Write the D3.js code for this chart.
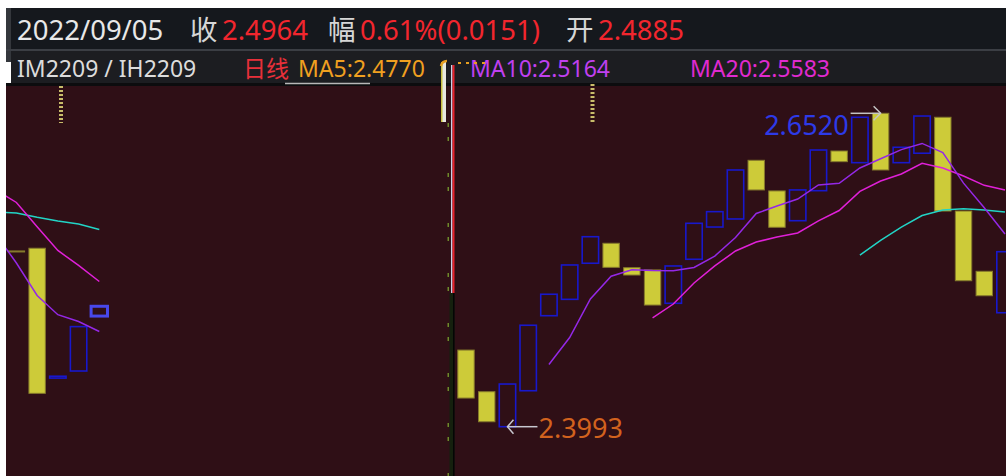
<!DOCTYPE html>
<html><head><meta charset="utf-8">
<script src="https://cdn.jsdelivr.net/npm/d3@7/dist/d3.min.js"></script>
<style>html,body{margin:0;padding:0;background:#fff;overflow:hidden}svg{display:block}</style>
</head><body><svg id="c" width="1006" height="476"></svg>
<script>
// ---- data ----
const opens  = [2.4611,2.4275,2.3993,2.4283,2.4888,2.5020,2.5311,2.5472,2.5275,2.5257,
                2.4988,2.5343,2.5603,2.5668,2.6141,2.5894,2.5654,2.5896,2.6216,2.6122,
                2.6520,2.6122,2.6198,2.6488,2.5732,2.5246,2.4912,2.5410,2.5432,2.4385,
                2.4442,2.4885];
const closes = [2.4224,2.4033,2.4337,2.4811,2.5061,2.5297,2.5525,2.5278,2.5216,2.4974,
                2.5289,2.5633,2.5727,2.6063,2.5902,2.5601,2.5902,2.6224,2.6130,2.6488,
                2.6063,2.6246,2.6498,2.5732,2.5170,2.5049,2.5404,2.5402,2.4262,2.4400,
                2.4800,2.4964];
const ma5  = [null,null,null,null,2.4495,2.4712,2.5023,2.5206,2.5259,2.5253,
              2.5251,2.5277,2.5369,2.5519,2.5712,2.5773,2.5829,2.5942,2.5956,2.6079,
              2.6154,2.6227,2.6277,2.6204,2.5957,2.5758,2.5547,2.5313,2.5051,2.4896,
              2.4841,2.4761];
const ma10 = [null,null,null,null,null,null,null,null,null,2.4870,
              2.4982,2.5152,2.5289,2.5410,2.5482,2.5523,2.5555,2.5652,2.5736,2.5890,
              2.5974,2.6031,2.6117,2.6079,2.6014,2.5939,2.5902,2.5801,2.5605,2.5414,
              2.5293,2.5164];
const ma20 = [null,null,null,null,null,null,null,null,null,null,
              null,null,null,null,null,null,null,null,null,2.5377,
              2.5496,2.5602,2.5696,2.5740,2.5751,2.5740,2.5724,2.5716,2.5682,2.5652,
              2.5627,2.5583];
const highValue = 2.6520, highIndex = 20;
const lowValue = 2.3993, lowIndex = 2;
const selectedIndex = 31;
const rightIdx = d3.range(0, 27);      // shown in the right part
const leftIdx = d3.range(26, 32);      // shown in the left part (wrapped)
const headerItems = [
  {t:"2022/09/05", c:"#e8e8e8"}, {t:"收", c:"#d6d6d6"}, {t:"2.4964", c:"#f2262e"},
  {t:"幅", c:"#d6d6d6"}, {t:"0.61%(0.0151)", c:"#f2262e"}, {t:"开", c:"#d6d6d6"},
  {t:"2.4885", c:"#f2262e"}
];
const headerX = [17, 190, 222, 328, 360, 566, 598];
const legendItems = [
  {t:"IM2209 / IH2209", c:"#dcdcdc"}, {t:"日线", c:"#e8303a"}, {t:"MA5:2.4770", c:"#f0a020"},
  {t:"MA10:2.5164", c:"#c040f0"}, {t:"MA20:2.5583", c:"#e02ad0"}
];
const legendX = [17, 243, 298, 470, 690];

// ---- layout ----
const svg = d3.select("#c");
const W = 1006, H = 476;
const chartTop = 86;
const y = d3.scaleLinear().domain([lowValue, highValue]).range([426.7, 113.3]);
const xR = d3.scaleLinear().domain([0, 26]).range([466, 1005]);
const xL = d3.scaleLinear().domain([27, 31]).range([16.4, 99.3]);
const bw = 16.4;
const font = "'Noto Sans','Noto Sans CJK SC',sans-serif";

svg.append("rect").attr("width", W).attr("height", H).attr("fill", "#ffffff");
svg.append("rect").attr("x", 6).attr("y", 8).attr("width", W-6).attr("height", 41).attr("fill", "#15181d");
svg.append("rect").attr("x", 6).attr("y", 8).attr("width", 5).attr("height", 54).attr("fill", "#34373c");
svg.append("rect").attr("x", 6).attr("y", 49).attr("width", W-6).attr("height", 2).attr("fill", "#3b3e44");
svg.append("rect").attr("x", 11).attr("y", 51).attr("width", W-11).attr("height", chartTop-51).attr("fill", "#1c1d21");
svg.append("rect").attr("x", 6).attr("y", chartTop-3).attr("width", W-6).attr("height", 3).attr("fill", "#0c0c0e");
svg.append("rect").attr("x", 6).attr("y", chartTop).attr("width", W-6).attr("height", H-chartTop).attr("fill", "#2f0f16");

// header
const hdr = svg.append("text").attr("y", 39.5).attr("font-family", font).attr("font-size", 27.5);
headerItems.forEach((d, i) => {
  hdr.append("tspan").attr("x", headerX[i]).attr("fill", d.c).text(d.t);
});
// legend row
const lg = svg.append("text").attr("y", 77).attr("font-family", font).attr("font-size", 23);
legendItems.forEach((d, i) => {
  lg.append("tspan").attr("x", legendX[i]).attr("fill", d.c).text(d.t);
});
svg.append("line").attr("x1", 285).attr("x2", 370).attr("y1", 83.5).attr("y2", 83.5)
  .attr("stroke", "#b8b8b8").attr("stroke-width", 1.5);

// clip paths
const defs = svg.append("defs");
defs.append("clipPath").attr("id", "clipL").append("rect")
  .attr("x", 6).attr("y", chartTop).attr("width", 441).attr("height", H-chartTop);
defs.append("clipPath").attr("id", "clipR").append("rect")
  .attr("x", 455).attr("y", chartTop).attr("width", W-455).attr("height", H-chartTop);

function drawPanel(clipId, xs, idx, candleIdx) {
  const g = svg.append("g").attr("clip-path", `url(#${clipId})`);
  const rows = candleIdx.map(i => ({i, o: opens[i], c: closes[i]}));
  g.selectAll("rect.k").data(rows).join("rect").attr("class", "k")
    .attr("x", d => xs(d.i) - bw/2)
    .attr("y", d => y(Math.max(d.o, d.c)))
    .attr("width", bw)
    .attr("height", d => Math.max(1, Math.abs(y(d.o) - y(d.c))))
    .attr("fill", d => d.c >= d.o ? "#2f0f16" : "#cdcb39")
    .attr("stroke", d => d.i === selectedIndex ? "#4848ea" : (d.c >= d.o ? "#1818cc" : "#857a2c"))
    .attr("stroke-width", d => d.i === selectedIndex ? 3 : (d.c >= d.o ? 1.6 : 1));
  const series = [
    {v: ma20, c: "#22d4c6"},
    {v: ma10, c: "#e020d8"},
    {v: ma5, c: "#9428e6"}
  ];
  series.forEach(s => {
    const pts = idx.map(i => ({i, v: s.v[i]}));
    const line = d3.line().defined(d => d.v != null).x(d => xs(d.i)).y(d => y(d.v));
    g.append("path").attr("d", line(pts)).attr("fill", "none")
      .attr("stroke", s.c).attr("stroke-width", 1.5);
  });
  return g;
}
drawPanel("clipL", xL, leftIdx, d3.range(27, 32));
drawPanel("clipR", xR, rightIdx, rightIdx);

// dashed markers at top
[[61, 86, 123], [592.5, 84, 122]].forEach(([x, y1, y2]) => {
  svg.append("line").attr("x1", x).attr("x2", x).attr("y1", y1).attr("y2", y2)
    .attr("stroke", "#c8bc6a").attr("stroke-width", 4).attr("stroke-dasharray", "2,2");
});

// divider between the two parts
svg.append("rect").attr("x", 441).attr("y", 62).attr("width", 5).attr("height", 60).attr("fill", "#e8e8e0");
svg.append("rect").attr("x", 441).attr("y", 62).attr("width", 1.5).attr("height", 60).attr("fill", "#c8c040");
svg.append("path").attr("d", "M441,66 Q442,61 447,61").attr("fill", "none").attr("stroke", "#e8a020").attr("stroke-width", 2.5);
svg.append("line").attr("x1", 458).attr("x2", 485).attr("y1", 63).attr("y2", 63)
  .attr("stroke", "#e8a020").attr("stroke-width", 2).attr("stroke-dasharray", "3,5");
svg.append("rect").attr("x", 451).attr("y", 65).attr("width", 1.5).attr("height", 228).attr("fill", "#c8d0e8");
svg.append("rect").attr("x", 452.5).attr("y", 65).attr("width", 2).attr("height", 228).attr("fill", "#e8202a");
svg.append("rect").attr("x", 449.5).attr("y", 293).attr("width", 5).attr("height", H-293).attr("fill", "#15200e");
svg.append("rect").attr("x", 453).attr("y", 293).attr("width", 1.5).attr("height", H-293).attr("fill", "#050505");
const tickYs = d3.range(125, 476, 50).flatMap(v => [v, v + 14]);
svg.selectAll("rect.tk").data(tickYs).join("rect").attr("class", "tk")
  .attr("x", 447.5).attr("y", d => d - 2).attr("width", 1.5).attr("height", 4).attr("fill", "#6f8a2a");

// high / low markers
const hx = xR(highIndex), hy = y(highValue);
svg.append("line").attr("x1", hx - 30).attr("x2", hx).attr("y1", hy).attr("y2", hy)
  .attr("stroke", "#c4c4c4").attr("stroke-width", 1.5);
svg.append("path").attr("d", `M${hx-7},${hy-7}L${hx},${hy}L${hx-7},${hy+7}`)
  .attr("fill", "none").attr("stroke", "#c4c4c4").attr("stroke-width", 1.5);
svg.append("text").attr("x", hx - 32).attr("y", hy + 21.5).attr("text-anchor", "end")
  .attr("font-family", font).attr("font-size", 27).attr("fill", "#2d3ae8")
  .text(d3.format(".4f")(highValue));
const lx = xR(lowIndex), ly = y(lowValue);
svg.append("line").attr("x1", lx).attr("x2", lx + 30).attr("y1", ly).attr("y2", ly)
  .attr("stroke", "#c8c8d0").attr("stroke-width", 1.5);
svg.append("path").attr("d", `M${lx+6},${ly-7}L${lx},${ly}L${lx+6},${ly+7}`)
  .attr("fill", "none").attr("stroke", "#c8c8d0").attr("stroke-width", 1.5);
svg.append("text").attr("x", lx + 31).attr("y", ly + 11).attr("font-family", font)
  .attr("font-size", 27).attr("fill", "#d2621e").text(d3.format(".4f")(lowValue));
</script></body></html>
